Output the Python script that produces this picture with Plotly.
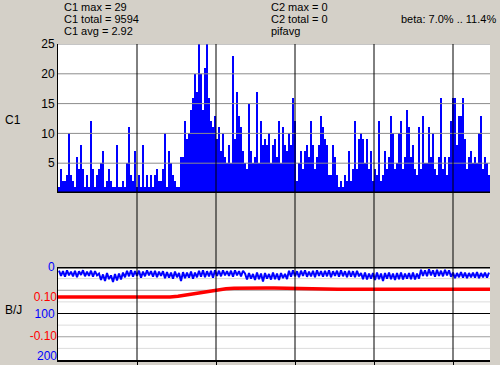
import plotly.graph_objects as go

# ---------------- data ----------------
# C1 counts per display bin (216 bins across the time axis)
C1_VALUES = [
    1, 4, 2, 2, 3, 10, 3, 2, 1, 6, 4, 8, 4, 1, 3, 1, 12, 4, 1, 3,
    4, 5, 7, 1, 2, 4, 2, 1, 1, 8, 1, 1, 2, 1, 5, 11,
    3, 2, 7, 1, 3, 1, 8, 1, 3, 1, 3, 1, 3, 4, 2, 2, 4, 10, 1, 7,
    5, 3, 2, 1, 1, 6, 6, 12, 9, 10, 14, 16, 20, 17, 29, 20, 14, 21, 27, 16,
    12, 11, 13, 9, 11, 7, 10, 6, 5, 8, 5, 23, 9, 17, 13, 11, 7, 5, 4, 15,
    7, 5, 6, 17, 5,
    12, 8, 9, 8, 10, 5, 8, 9, 6, 12,
    5, 11, 8, 7, 10, 8, 16, 12, 2, 5,
    7, 4, 7, 8, 6, 12, 8, 4, 6, 8,
    13, 11, 9, 8, 3, 3, 8, 6, 3, 1,
    2, 1, 3, 2, 7, 2, 4, 12, 4, 9,
    10, 9, 5, 9, 4, 7, 2, 4, 3, 12,
    2, 3, 7, 4, 6, 13, 10, 4, 5, 10,
    12, 4, 6, 14, 11, 6, 8, 4, 3, 11,
    4, 13, 5, 5, 11, 6, 10, 4, 3, 6,
    16, 4, 6, 3, 6, 12, 16, 16, 8, 13,
    13, 16, 9, 4, 6, 7, 5, 6, 5, 10,
    13, 4, 6, 5, 3,
]

# B (blue, 0..200 scale) per bin
B_VALUES = [
    8, 19, 9, 21, 7, 18, 10, 20, 8, 22, 9, 17, 7, 20, 10, 19, 8, 21, 9, 18,
    14, 28, 16, 30, 13, 26, 18, 32, 15, 29, 14, 27, 12,
    22, 8, 20, 7, 21, 9, 19, 8, 23, 10, 20, 7, 18, 9, 21, 8, 22, 10, 19, 9,
    24, 11, 23, 12, 25, 10, 22, 13, 30, 11, 24, 12, 23, 10, 25, 12, 22,
    8, 21, 7, 22, 9, 20, 8, 23, 7, 19,
    8, 20, 7, 18, 9, 19, 8, 21, 7, 18, 9, 20, 8,
    14, 27, 13, 25, 15, 28, 12, 26, 14, 31, 13, 25, 15, 27, 12, 26, 14, 28, 13, 24, 15, 26,
    8, 21, 7, 20, 9, 22, 8, 19, 7, 21, 10, 20, 8, 22, 7, 19, 9, 21, 8, 20, 7, 22, 9, 19, 8, 21, 7, 20, 9, 22,
    8, 21, 9, 22, 8, 20,
    13, 26, 12, 27, 14, 25, 13, 28, 12, 26, 14, 30, 13, 25, 12, 26, 14, 28, 13, 26, 12, 27, 14, 25, 13, 26, 12, 27, 14, 25,
    6, 19, 7, 20, 5, 18, 7, 21, 6, 19, 8, 20, 6, 18, 7,
    21, 12, 24, 13, 22, 11, 23, 12, 24, 13, 22, 12, 23, 11, 24, 13, 22, 12, 23, 12,
]

# J / beta (red) sampled every 4 bins
J_X = [4 * k for k in range(55)]
J_VALUES = [
    0.073, 0.073, 0.073, 0.073, 0.073, 0.073, 0.073, 0.073, 0.073, 0.072,
    0.071, 0.070, 0.070, 0.071, 0.073, 0.077, 0.082, 0.088, 0.094, 0.100,
    0.106, 0.110, 0.112, 0.113, 0.114, 0.114, 0.113, 0.113, 0.112, 0.111,
    0.110, 0.109, 0.108, 0.108, 0.108, 0.108, 0.108, 0.108, 0.108, 0.108,
    0.108, 0.108, 0.108, 0.108, 0.108, 0.108, 0.108, 0.108, 0.109, 0.109,
    0.109, 0.108, 0.108, 0.108, 0.108,
]

C1_TOTAL = 9594
C1_AVG = 2.92
C2_MAX = 0
C2_TOTAL = 0
BETA_TEXT = "beta: 7.0% .. 11.4%"

# axes ticks
C1_TICKS = [5, 10, 15, 20, 25]
B_TICKS = [0, 100]
B_TICK_END = [200]
J_TICK_POS = [0.10]
J_TICK_NEG = [-0.10]
GRID_X = [39.5, 79, 118.5, 158, 197.5]
B_GRID_MAJOR = [100]
B_GRID_MID = [50, 150]
B_GRID_MINOR = [25, 75, 125, 175]

N_BINS = len(C1_VALUES)
bin_x = [i + 0.5 for i in range(N_BINS)]

# ---------------- layout geometry ----------------
W, H = 500, 365
ML, MR, MT, MB = 58, 10, 44, 5
PW = W - ML - MR
PH = H - MT - MB
BG = "#D4D0C8"


def px(x):
    return (x - ML) / PW


def py(y):
    return (H - MB - y) / PH


TOP_DOM = [py(193), 1.0]
MID_DOM = [py(267), py(193)]
BOT_DOM = [0.0, py(267)]

B_RANGE = [200, 0]
J_RANGE = [-0.2067, 0.2067]

fig = go.Figure()

fig.add_trace(go.Bar(x=bin_x, y=C1_VALUES, width=1.0, marker=dict(color="#0000FF", line=dict(width=0)),
                     xaxis="x", yaxis="y", showlegend=False))
fig.add_trace(go.Scatter(x=bin_x, y=B_VALUES, mode="lines", line=dict(color="#0000FF", width=2),
                         xaxis="x", yaxis="y3", showlegend=False))
fig.add_trace(go.Scatter(x=J_X, y=J_VALUES, mode="lines", line=dict(color="#FF0000", width=3.5),
                         xaxis="x", yaxis="y4", showlegend=False))
# empty traces so that the extra label axes are drawn
for ax in ("y5", "y6"):
    fig.add_trace(go.Scatter(x=[None], y=[None], mode="lines", xaxis="x", yaxis=ax,
                             showlegend=False, hoverinfo="skip"))

FONT = "Liberation Sans, Arial, sans-serif"
FS = 11

shapes = []
# bottom panel grid (below traces)
for v in B_GRID_MINOR:
    shapes.append(dict(type="line", xref="x domain", x0=0, x1=1, yref="y3", y0=v, y1=v,
                       line=dict(color="#DCDCDC", width=1), layer="below"))
for v in B_GRID_MID:
    shapes.append(dict(type="line", xref="x domain", x0=0, x1=1, yref="y3", y0=v, y1=v,
                       line=dict(color="#A0A0A0", width=1), layer="below"))
for v in B_GRID_MAJOR:
    shapes.append(dict(type="line", xref="x domain", x0=0, x1=1, yref="y3", y0=v, y1=v,
                       line=dict(color="#000000", width=1), layer="below"))
# top panel grid (above bars)
for v in C1_TICKS:
    shapes.append(dict(type="line", xref="x domain", x0=0, x1=1, yref="y", y0=v, y1=v,
                       line=dict(color="#8C8C8C", width=1), layer="above"))
# vertical time grid
for v in GRID_X:
    shapes.append(dict(type="line", xref="x", x0=v, x1=v, yref="paper", y0=0, y1=1,
                       line=dict(color="#000000", width=1), layer="above"))
# thick panel separators
shapes.append(dict(type="line", xref="x domain", x0=0, x1=1, yref="y", y0=0, y1=0,
                   line=dict(color="#000000", width=3), layer="above"))
shapes.append(dict(type="line", xref="x domain", x0=0, x1=1, yref="y3", y0=0, y1=0,
                   line=dict(color="#000000", width=3), layer="above"))

annotations = []


def note(text, x, y, anchor="left", color="black", size=FS):
    annotations.append(dict(text=text, xref="paper", yref="paper", x=px(x), y=py(y),
                            xanchor=anchor, yanchor="middle", showarrow=False,
                            font=dict(family=FONT, size=size, color=color)))


note(f"C1 max = {max(C1_VALUES)}", 62, 7)
note(f"C1 total = {C1_TOTAL}", 62, 19)
note(f"C1 avg = {C1_AVG:.2f}", 62, 31)
note(f"C2 max = {C2_MAX}", 269, 7)
note(f"C2 total = {C2_TOTAL}", 269, 19)
note("pifavg", 269, 31)
note(BETA_TEXT, 498, 19, anchor="right")
note("C1", 3, 120, size=12)
note("B/J", 3, 310, size=12)

tickfont = dict(family=FONT, size=12, color="black")
bluefont = dict(family=FONT, size=12, color="#0000FF")
redfont = dict(family=FONT, size=12, color="#FF0000")

fig.update_layout(
    width=W, height=H,
    margin=dict(l=ML, r=MR, t=MT, b=MB, pad=0, autoexpand=False),
    paper_bgcolor=BG,
    plot_bgcolor="#FFFFFF",
    bargap=0,
    showlegend=False,
    shapes=shapes,
    annotations=annotations,
    xaxis=dict(domain=[0, 1], range=[0, N_BINS], anchor="y3", tickvals=GRID_X, ticks="outside",
               ticklen=3, tickcolor="#000000", showticklabels=False, showgrid=False, zeroline=False,
               showline=True, linecolor="#000000", linewidth=2, automargin=False),
    yaxis=dict(domain=TOP_DOM, range=[0, 25], anchor="x", tickvals=C1_TICKS, ticks="",
               showgrid=False, zeroline=False, showline=True, linecolor="#000000", linewidth=1,
               tickfont=tickfont, automargin=False, ticklabeloverflow="allow"),
    yaxis2=dict(domain=MID_DOM, range=[0, 1], anchor="x", showticklabels=False, ticks="",
                showgrid=False, zeroline=False, showline=True, linecolor="#000000", linewidth=1,
                automargin=False),
    yaxis3=dict(domain=BOT_DOM, range=B_RANGE, anchor="x", tickvals=B_TICKS, ticks="",
                showgrid=False, zeroline=False, showline=True, linecolor="#000000", linewidth=1,
                tickfont=bluefont, automargin=False, ticklabeloverflow="allow"),
    yaxis4=dict(overlaying="y3", range=J_RANGE, anchor="x", side="left", tickvals=J_TICK_NEG,
                ticktext=[f"{v:.2f}" for v in J_TICK_NEG], ticks="", showgrid=False, zeroline=False,
                showline=False, tickfont=redfont, automargin=False),
    yaxis5=dict(overlaying="y3", range=J_RANGE, anchor="x", side="left", tickvals=J_TICK_POS,
                ticktext=[f"{v:.2f}" for v in J_TICK_POS], ticks="", showgrid=False, zeroline=False,
                showline=False, ticklabelshift=6, automargin=False, tickfont=redfont),
    yaxis6=dict(overlaying="y3", range=B_RANGE, anchor="x", side="left", tickvals=B_TICK_END,
                ticks="", showgrid=False, zeroline=False, showline=False, ticklabelshift=4,
                automargin=False, ticklabeloverflow="allow", tickfont=bluefont),
)

fig.write_html(
    "out.html",
    config={"displayModeBar": False},
    post_script=f"document.body.style.margin='0';document.body.style.background='{BG}';",
)
